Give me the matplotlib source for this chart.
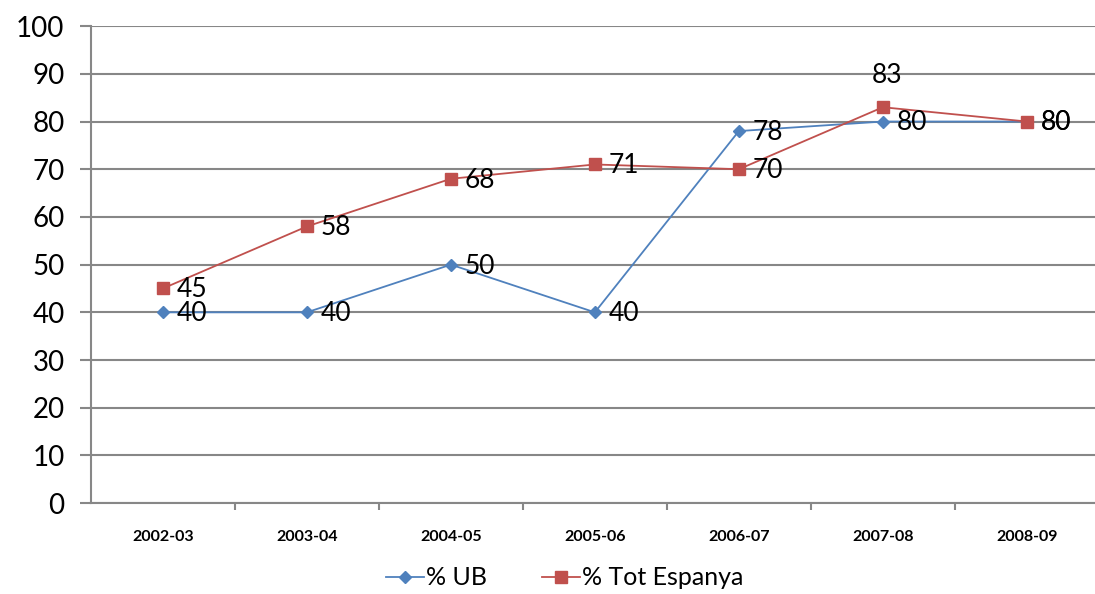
import numpy as np
import matplotlib.pyplot as plt

# data
seasons = ['2002-03', '2003-04', '2004-05', '2005-06', '2006-07', '2007-08', '2008-09']
ub = [40, 40, 50, 40, 78, 80, 80]
tot_espanya = [45, 58, 68, 71, 70, 83, 80]

blue = '#4F81BD'
red = '#C0504D'
grid_col = '#878787'

plt.rcParams['font.family'] = ['Lato', 'DejaVu Sans']

fig = plt.figure(figsize=(10.95, 5.94), dpi=100)
ax = fig.add_axes([0.083, 0.153, 0.9205, 0.803])

x = np.arange(len(seasons))
ax.plot(x, ub, color=blue, lw=1.3, marker='D', ms=6.5, mec=blue, mfc=blue, label='% UB', zorder=3)
ax.plot(x, tot_espanya, color=red, lw=1.3, marker='s', ms=9, mec=red, mfc=red,
        label='% Tot Espanya', zorder=4)

# data labels, right of the markers (83 sits above its point)
for xi, v in zip(x, ub):
    ax.annotate(str(v), (xi, v), xytext=(10, -1), textcoords='offset points',
                va='center', ha='left', fontsize=19, color='black', zorder=5)
for xi, v in zip(x, tot_espanya):
    if v == max(tot_espanya):
        ax.annotate(str(v), (xi, v), xytext=(3, 14), textcoords='offset points',
                    va='bottom', ha='center', fontsize=19, color='black', zorder=5)
    else:
        ax.annotate(str(v), (xi, v), xytext=(10, -1), textcoords='offset points',
                    va='center', ha='left', fontsize=19, color='black', zorder=5)

ax.set_xlim(-0.5, len(seasons) - 0.5)
ax.set_ylim(0, 100)
ax.set_yticks(range(0, 101, 10))
ax.tick_params(axis='y', labelsize=20, length=8, width=1.5, color=grid_col, pad=11)
ax.set_xticks(x)
ax.set_xticklabels(seasons, fontsize=11.5, fontweight='bold')
ax.set_xticks(np.arange(0.5, len(seasons) - 0.5, 1), minor=True)
ax.tick_params(axis='x', which='major', length=0, pad=19)
ax.tick_params(axis='x', which='minor', length=5, width=1.5, color=grid_col)

ax.grid(axis='y', color=grid_col, lw=1.5)
ax.set_axisbelow(True)
for side in ['top', 'right']:
    ax.spines[side].set_visible(False)
for side in ['left', 'bottom']:
    ax.spines[side].set_color(grid_col)
    ax.spines[side].set_linewidth(1.5)

fig.legend(loc='center', bbox_to_anchor=(0.516, 0.027), ncol=2, frameon=False,
           fontsize=18, handlelength=1.5, handletextpad=0.1, columnspacing=2.2)

fig.savefig('out.png', dpi=100)
